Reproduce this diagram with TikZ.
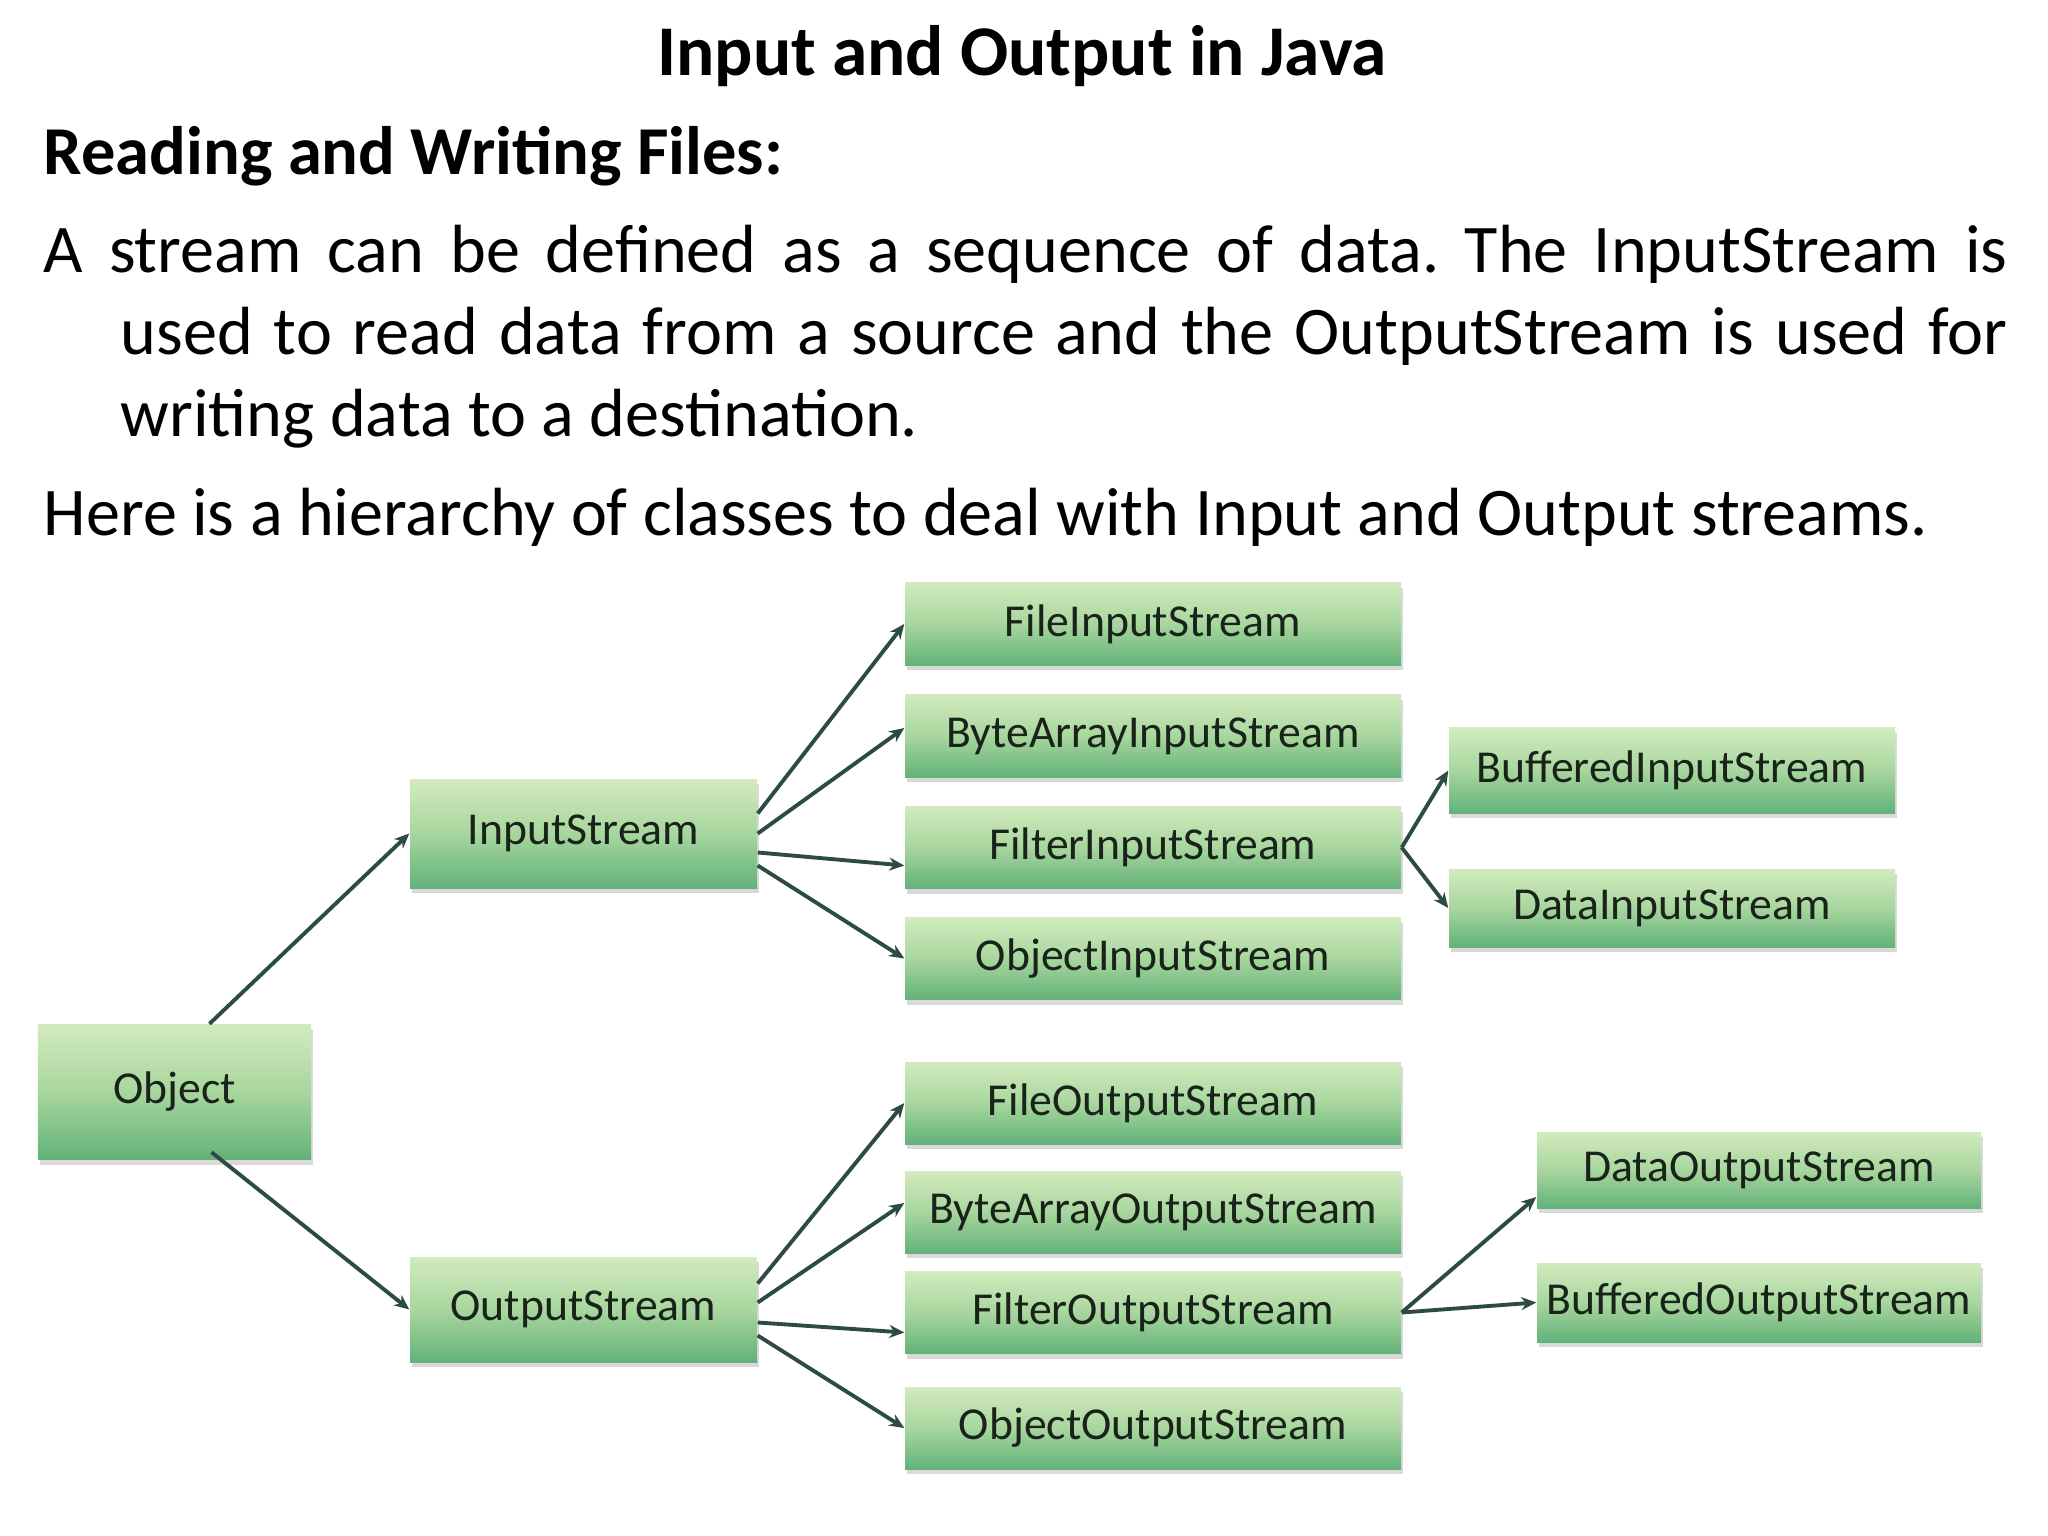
\documentclass[tikz,border=0pt]{standalone}
\usepackage{fontspec}
\setmainfont{Carlito}
\usetikzlibrary{arrows.meta,shadows}
\definecolor{greenTop}{RGB}{210,235,190}
\definecolor{greenMid}{RGB}{168,214,158}
\definecolor{greenLow}{RGB}{98,178,121}
\definecolor{linkCol}{RGB}{45,75,70}
\definecolor{labelCol}{RGB}{25,35,25}
\frenchspacing

\begin{document}
\begin{tikzpicture}[
  cls/.style={rectangle, draw=none, top color=greenTop, bottom color=greenLow, middle color=greenMid,
              minimum width=4.96cm, minimum height=0.82cm, inner sep=0pt,
              font=\fontsize{13}{15}\selectfont, text=labelCol,
              drop shadow={shadow xshift=0.02cm, shadow yshift=-0.05cm, fill=black, opacity=0.15}},
  link/.style={draw=linkCol, line width=1.1pt, -{Stealth[length=1.5mm,width=1.3mm]}},
  body/.style={inner sep=0pt, font=\fontsize{19.4}{23.3}\selectfont},
]

\def\hangW{0.77cm}

\useasboundingbox (0,0) rectangle (20.48,-15.36);

% ---------- text ----------
\node[body, anchor=base, font=\fontsize{20.3}{24}\selectfont\bfseries] (title) at (10.22,-0.76) {Input and Output in Java};
\node[body, anchor=base west, font=\fontsize{19.5}{24}\selectfont\bfseries] (head) at (0.43,-1.75) {Reading and Writing Files:};
\node[body, anchor=base west] (para) at (0.43,-2.73)
  {\parbox[t]{19.64cm}{\fontsize{19.4}{23.3}\selectfont\hangindent=\hangW\hangafter=1
   A stream can be defined as a sequence of data. The InputStream is\linebreak
   used to read data from a source and the OutputStream is used for\linebreak
   writing data to a destination.}};
\node[body, anchor=base west] (here) at (0.43,-5.36) {Here is a hierarchy of classes to deal with Input and Output streams.};

% ---------- roots ----------
\node[cls, minimum width=2.73cm, minimum height=1.35cm] (obj) at (1.745,-10.92) {Object};
\node[cls, minimum width=3.47cm, minimum height=1.09cm] (in)  at (5.835,-8.335) {InputStream};
\node[cls, minimum width=3.47cm, minimum height=1.05cm] (out) at (5.835,-13.095) {OutputStream};

% ---------- input side ----------
\node[cls] (filein)   at (11.53,-6.24)  {FileInputStream};
\node[cls] (bytein)   at (11.53,-7.36)  {ByteArrayInputStream};
\node[cls] (filterin) at (11.53,-8.475) {FilterInputStream};
\node[cls] (objin)    at (11.53,-9.585) {ObjectInputStream};
\node[cls, minimum width=4.46cm, minimum height=0.85cm] (bufin)  at (16.72,-7.705) {BufferedInputStream};
\node[cls, minimum width=4.46cm, minimum height=0.78cm] (datain) at (16.72,-9.08)  {DataInputStream};

% ---------- output side ----------
\node[cls] (fileout)   at (11.53,-11.03)  {FileOutputStream};
\node[cls] (byteout)   at (11.53,-12.12)  {ByteArrayOutputStream};
\node[cls] (filterout) at (11.53,-13.125) {FilterOutputStream};
\node[cls] (objout)    at (11.53,-14.28)  {ObjectOutputStream};
\node[cls, minimum width=4.44cm, minimum height=0.76cm] (dataout) at (17.59,-11.70)  {DataOutputStream};
\node[cls, minimum width=4.44cm, minimum height=0.79cm] (bufout)  at (17.59,-13.025) {BufferedOutputStream};

% ---------- links ----------
\draw[link] ([xshift=3.5mm]obj.north) -- (in.west);
\draw[link] ([xshift=3.7mm,yshift=0.8mm]obj.south) -- (out.west);

\draw[link] ([yshift=2mm]in.east)    -- (filein.west);
\draw[link] (in.east)                -- ([yshift=0.8mm]bytein.west);
\draw[link] ([yshift=-1.9mm]in.east) -- ([yshift=-1.8mm]filterin.west);
\draw[link] ([yshift=-3.2mm]in.east) -- (objin.west);
\draw[link] (filterin.east) -- (bufin.west);
\draw[link] (filterin.east) -- (datain.west);

\draw[link] ([yshift=2.6mm]out.east)  -- (fileout.west);
\draw[link] ([yshift=0.7mm]out.east)  -- ([yshift=0.9mm]byteout.west);
\draw[link] ([yshift=-1.3mm]out.east) -- ([yshift=-2mm]filterout.west);
\draw[link] ([yshift=-2.6mm]out.east) -- (objout.west);
\draw[link] (filterout.east) -- ([yshift=-2.7mm]dataout.west);
\draw[link] (filterout.east) -- (bufout.west);

\end{tikzpicture}
\end{document}
